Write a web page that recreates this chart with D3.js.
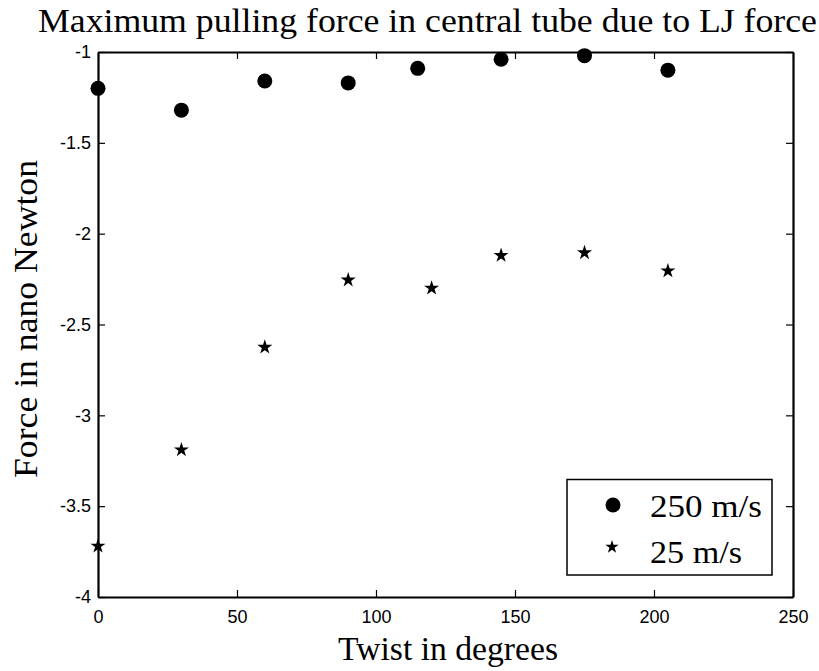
<!DOCTYPE html>
<html>
  <head>
      <meta charset="utf-8">
      <script src="https://cdnjs.cloudflare.com/ajax/libs/d3/7.8.5/d3.min.js"></script>
      <style>
        body { margin: 0; background: #fff; }
      </style>
  </head>
  <body>
    <div id="vis"></div>
    <script type="text/javascript">

        // twist angle (degrees) and max pulling force (nN)
        const twist250 = [0, 30, 60, 90, 115, 145, 175, 205];
        const force250 = [-1.20, -1.32, -1.16, -1.17, -1.09, -1.04, -1.02, -1.10];
        const twist25 = [0, 30, 60, 90, 120, 145, 175, 205];
        const force25 = [-3.72, -3.19, -2.625, -2.255, -2.30, -2.12, -2.105, -2.205];

        const xTicks = [0, 50, 100, 150, 200, 250];
        const yTicks = [-1, -1.5, -2, -2.5, -3, -3.5, -4];
        const legendLabels = ["250 m/s", "25 m/s"];

        const W = 819, H = 671;
        const pLeft = 98, pRight = 793, pTop = 52, pBottom = 597;

        const svg = d3.select("#vis")
            .append("svg")
            .attr("width", W)
            .attr("height", H);

        const x = d3.scaleLinear().domain([0, 250]).range([pLeft, pRight]);
        const y = d3.scaleLinear().domain([-4, -1]).range([pBottom, pTop]);

        const tickFont = "Liberation Sans, Arial, sans-serif";
        const serif = "Liberation Serif, Times New Roman, serif";
        const fmt = d => String(d);   // plain hyphen minus like matlab

        // axes, matlab style: ticks inside, box all round
        const axB = svg.append("g").attr("transform", `translate(0,${pBottom})`)
            .call(d3.axisBottom(x).tickValues(xTicks).tickFormat(fmt).tickSizeInner(-7).tickSizeOuter(0).tickPadding(13));
        const axT = svg.append("g").attr("transform", `translate(0,${pTop})`)
            .call(d3.axisTop(x).tickValues(xTicks).tickSizeInner(-7).tickSizeOuter(0).tickFormat(""));
        const axL = svg.append("g").attr("transform", `translate(${pLeft},0)`)
            .call(d3.axisLeft(y).tickValues(yTicks).tickFormat(fmt).tickSizeInner(-7).tickSizeOuter(0).tickPadding(13));
        const axR = svg.append("g").attr("transform", `translate(${pRight},0)`)
            .call(d3.axisRight(y).tickValues(yTicks).tickSizeInner(-7).tickSizeOuter(0).tickFormat(""));

        [axB, axT, axL, axR].forEach(a => {
            a.selectAll("path.domain").attr("stroke", "#000").attr("stroke-width", 2.2);
            a.selectAll(".tick line").attr("stroke", "#000").attr("stroke-width", 1.2);
            a.selectAll(".tick text")
                .attr("fill", "#000")
                .style("font-family", tickFont)
                .style("font-size", "18px");
        });
        axL.selectAll(".tick text").attr("dx", 6);

        // points
        svg.append("g").selectAll("circle")
            .data(twist250.map((t, i) => [t, force250[i]]))
            .join("circle")
            .attr("cx", d => x(d[0]))
            .attr("cy", d => y(d[1]))
            .attr("r", 7.5)
            .attr("fill", "#000");

        const star = d3.symbol().type(d3.symbolStar).size(70);
        svg.append("g").selectAll("path")
            .data(twist25.map((t, i) => [t, force25[i]]))
            .join("path")
            .attr("d", star)
            .attr("transform", d => `translate(${x(d[0])},${y(d[1])})`)
            .attr("fill", "#000");

        // legend
        const lg = svg.append("g");
        lg.append("rect")
            .attr("x", 567).attr("y", 479.5)
            .attr("width", 205).attr("height", 95.5)
            .attr("fill", "#fff").attr("stroke", "#000").attr("stroke-width", 1.5);
        lg.append("circle").attr("cx", 613).attr("cy", 505).attr("r", 7.5).attr("fill", "#000");
        lg.append("path").attr("d", d3.symbol().type(d3.symbolStar).size(55))
            .attr("transform", "translate(612,547)").attr("fill", "#000");
        const legendWidths = [112, 92];
        lg.selectAll("text")
            .data(legendLabels)
            .join("text")
            .attr("x", 650)
            .attr("y", (d, i) => 517 + i * 46)
            .attr("textLength", (d, i) => legendWidths[i])
            .attr("lengthAdjust", "spacingAndGlyphs")
            .style("font-family", serif)
            .style("font-size", "32px")
            .text(d => d);

        // title and axis labels
        svg.append("text")
            .attr("x", 427.5).attr("y", 32)
            .attr("text-anchor", "middle")
            .attr("textLength", 779)
            .attr("lengthAdjust", "spacingAndGlyphs")
            .style("font-family", serif)
            .style("font-size", "33px")
            .text("Maximum pulling force in central tube due to LJ force");

        svg.append("text")
            .attr("x", 448).attr("y", 660)
            .attr("text-anchor", "middle")
            .attr("textLength", 220)
            .attr("lengthAdjust", "spacingAndGlyphs")
            .style("font-family", serif)
            .style("font-size", "33px")
            .text("Twist in degrees");

        svg.append("text")
            .attr("transform", "translate(37,319) rotate(-90)")
            .attr("text-anchor", "middle")
            .attr("textLength", 318)
            .attr("lengthAdjust", "spacingAndGlyphs")
            .style("font-family", serif)
            .style("font-size", "33px")
            .text("Force in nano Newton");

    </script>
  </body>
</html>
